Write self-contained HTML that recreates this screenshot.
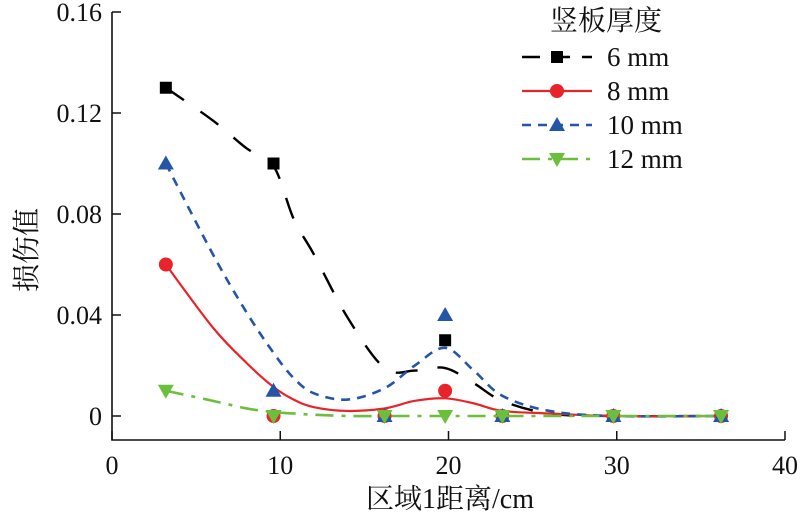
<!DOCTYPE html>
<html><head><meta charset="utf-8">
<style>
html,body{margin:0;padding:0;background:#fff;}
svg{display:block;}
text{font-family:"Liberation Serif","Noto Serif CJK SC",serif;fill:#111;}
</style></head>
<body>
<svg id="chart" width="800" height="519" viewBox="0 0 800 519" xmlns="http://www.w3.org/2000/svg">
<g id="axes"></g>
<g id="series"></g>
<g id="legend"></g>
</svg>
<script>
const xTicks=[0,10,20,30,40];
const yTicks=[0,0.04,0.08,0.12,0.16];
const yTickLabels=["0","0.04","0.08","0.12","0.16"];
const pointX=[3.2,9.6,16.2,19.8,23.2,29.8,36.2];
const pts6=[0.13,0.10,0,0.03,0,0,0];
const pts8=[0.06,0,0,0.01,0,0,0];
const pts10=[0.10,0.01,0,0.04,0,0,0];
const pts12=[0.01,0,0,0,0,0,0];
const fitX=[3.2,6,8,9.6,10.8,12,14,16.2,18,19.8,21.5,23.2,26,29.8,36.2];
const fit6=[0.13,0.117,0.106,0.099,0.078,0.064,0.039,0.019,0.018,0.019,0.013,0.006,0.001,0,0];
const fit8=[0.06,0.035,0.021,0.0115,0.0065,0.0035,0.002,0.003,0.006,0.007,0.005,0.002,0.001,0,0];
const fit10=[0.10,0.064,0.041,0.025,0.015,0.009,0.0065,0.011,0.02,0.027,0.018,0.008,0.002,0,0];
const fit12=[0.01,0.006,0.003,0.0015,0.001,0.0005,0,0,0,0,0,0,0,0,0];
const seriesNames=["6 mm","8 mm","10 mm","12 mm"];

const NS="http://www.w3.org/2000/svg";
const X0=112,X1=785,Y0=416,YT=12;
function sx(v){return X0+(X1-X0)*v/40;}
function sy(v){return Y0-(Y0-YT)*v/0.16;}
function mk(tag,attrs,parent){const e=document.createElementNS(NS,tag);for(const k in attrs)e.setAttribute(k,attrs[k]);parent.appendChild(e);return e;}
const axes=document.getElementById('axes');
const ser=document.getElementById('series');
const leg=document.getElementById('legend');

let el=mk('path',{d:`M${X0},${YT} V440 H${X1}`,fill:'none',stroke:'#111','stroke-width':1.6},axes);


xTicks.forEach(v=>{
  let t=mk('line',{x1:sx(v),x2:sx(v),y1:440,y2:431,stroke:'#111','stroke-width':1.5},axes);
  
  
  let l=mk('text',{x:sx(v),y:474,'text-anchor':'middle','font-size':26},axes);
  l.textContent=v;
  
  
});
yTicks.forEach((v,i)=>{
  let t=mk('line',{x1:X0,x2:X0+9,y1:sy(v),y2:sy(v),stroke:'#111','stroke-width':1.5},axes);
  
  
  let l=mk('text',{x:102,y:sy(v)+9,'text-anchor':'end','font-size':26},axes);
  l.textContent=yTickLabels[i];
  
  
});
let xt=mk('text',{x:450,y:508,'text-anchor':'middle','font-size':28},axes);
xt.textContent='区域1距离/cm';


let yt=mk('text',{x:0,y:0,'text-anchor':'middle','font-size':28,transform:'translate(36,250) rotate(-90)'},axes);
yt.textContent='损伤值';



function smooth(xs,ys){
  const p=xs.map((x,i)=>[sx(x),sy(ys[i])]);
  let d=`M${p[0][0]},${p[0][1]}`;
  for(let i=0;i<p.length-1;i++){
    const p0=p[i-1]||p[i],p1=p[i],p2=p[i+1],p3=p[i+2]||p2;
    const c1=[p1[0]+(p2[0]-p0[0])/6,p1[1]+(p2[1]-p0[1])/6];
    const c2=[p2[0]-(p3[0]-p1[0])/6,p2[1]-(p3[1]-p1[1])/6];
    d+=` C${c1[0]},${c1[1]} ${c2[0]},${c2[1]} ${p2[0]},${p2[1]}`;
  }
  return d;
}
function marker(type,x,y,color,parent){
  let m;
  if(type==='sq') m=mk('rect',{x:x-6,y:y-6,width:12,height:12,fill:color},parent);
  else if(type==='ci') m=mk('circle',{cx:x,cy:y,r:7,fill:color},parent);
  else if(type==='up') m=mk('polygon',{points:`${x},${y-8} ${x+8},${y+6} ${x-8},${y+6}`,fill:color},parent);
  else m=mk('polygon',{points:`${x},${y+8} ${x+8},${y-6} ${x-8},${y-6}`,fill:color},parent);
  return m;
}
const defs=[
 {fit:fit6,pts:pts6,color:'#000',dash:'22 20',mk:'sq',w:2.4},
 {fit:fit8,pts:pts8,color:'#e8242a',dash:'',mk:'ci',w:2.2},
 {fit:fit10,pts:pts10,color:'#2456a8',dash:'9 7',mk:'up',w:2.6},
 {fit:fit12,pts:pts12,color:'#6cbf3c',dash:'18 8 4 8',mk:'dn',w:2.6}
];
const names=['series-6mm','series-8mm','series-10mm','series-12mm'];
defs.forEach((s,i)=>{
  let g=mk('g',{},ser);
  
  
  let pa=mk('path',{d:smooth(fitX,s.fit),fill:'none',stroke:s.color,'stroke-width':s.w,'stroke-dasharray':s.dash},g);
  
  
  pointX.forEach((x,j)=>{
    let m=marker(s.mk,sx(x),sy(s.pts[j]),s.color,g);
    
    
  });
  const ly=57+34*i;
  let lg=mk('g',{},leg);
  
  
  mk('line',{x1:522,x2:592,y1:ly,y2:ly,stroke:s.color,'stroke-width':s.w,'stroke-dasharray':s.dash==='22 20'?'18 12':s.dash},lg);
  marker(s.mk,557,ly,s.color,lg);
  let tx=mk('text',{x:607,y:ly+9,'font-size':27},lg);
  tx.textContent=seriesNames[i];
});
let lt=mk('text',{x:550,y:30,'font-size':28},leg);
lt.textContent='竖板厚度';


</script>
</body></html>
